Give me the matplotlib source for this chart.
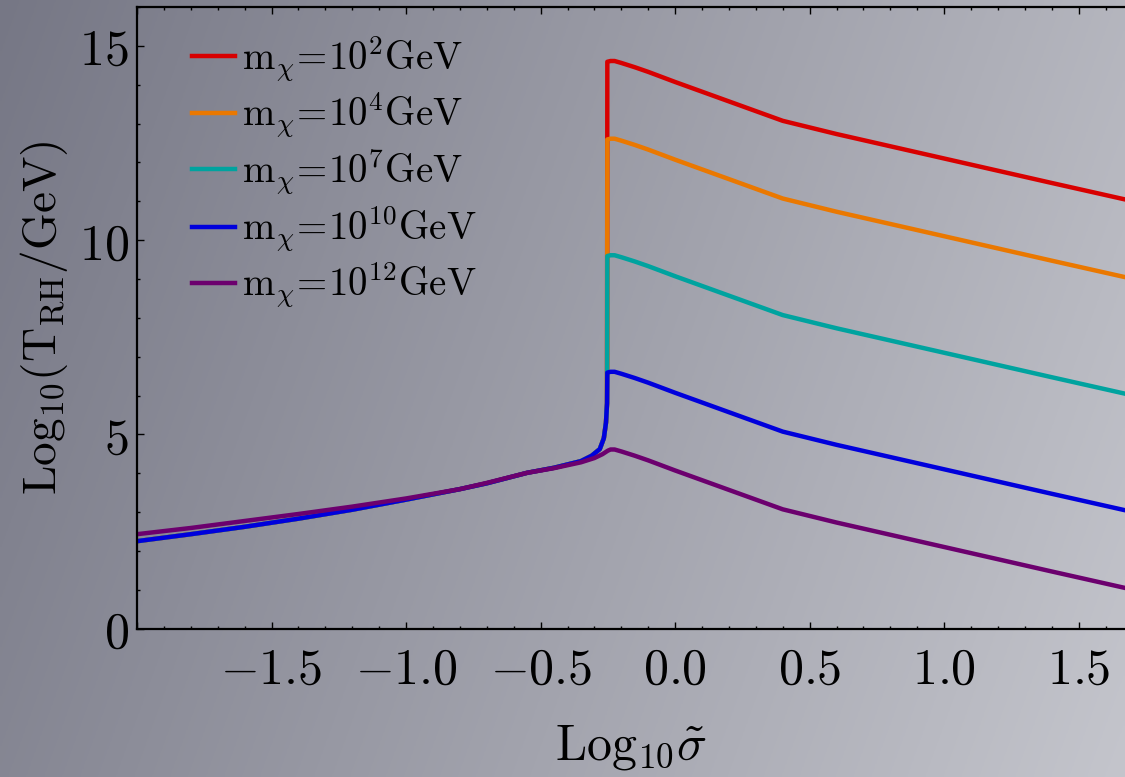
import numpy as np
import matplotlib
matplotlib.use('Agg')
import matplotlib.pyplot as plt
from matplotlib.ticker import MultipleLocator, FuncFormatter

plt.rcParams['mathtext.fontset'] = 'cm'
plt.rcParams['font.family'] = ['DejaVu Serif']

# data
x_low = [-2.0, -1.8, -1.6, -1.4, -1.2, -1.0, -0.8, -0.7, -0.55, -0.45, -0.35, -0.31, -0.28, -0.265, -0.257, -0.253]
y_low = [2.25, 2.43, 2.62, 2.83, 3.06, 3.32, 3.59, 3.74, 4.01, 4.14, 4.31, 4.45, 4.62, 4.90, 5.30, 5.80]

x_low_heavy = [-2.0, -1.8, -1.6, -1.4, -1.2, -1.0, -0.8, -0.7, -0.55, -0.45, -0.35, -0.30, -0.27, -0.25]
y_low_heavy = [2.43, 2.59, 2.77, 2.95, 3.14, 3.35, 3.59, 3.75, 4.01, 4.13, 4.28, 4.39, 4.49, 4.58]

x_high = [-0.252, -0.24, -0.225, -0.2, -0.15, -0.1, 0.0, 0.1, 0.2, 0.3, 0.4, 0.6, 1.0, 1.4, 1.67]
y_red = [14.59, 14.61, 14.61, 14.56, 14.45, 14.33, 14.07, 13.82, 13.57, 13.32, 13.07, 12.73, 12.10, 11.47, 11.05]
y_orange = [12.59, 12.61, 12.61, 12.56, 12.45, 12.33, 12.07, 11.82, 11.57, 11.32, 11.07, 10.73, 10.10, 9.47, 9.05]
y_teal = [9.59, 9.61, 9.61, 9.56, 9.45, 9.33, 9.07, 8.82, 8.57, 8.32, 8.07, 7.73, 7.10, 6.47, 6.05]
y_blue = [6.59, 6.61, 6.61, 6.56, 6.45, 6.33, 6.07, 5.82, 5.57, 5.32, 5.07, 4.73, 4.10, 3.47, 3.05]
y_purple = [4.59, 4.61, 4.61, 4.56, 4.45, 4.33, 4.07, 3.82, 3.57, 3.32, 3.07, 2.73, 2.10, 1.47, 1.05]

labels = [r'$\mathrm{m}_\chi\!=\!10^{2}\mathrm{GeV}$',
          r'$\mathrm{m}_\chi\!=\!10^{4}\mathrm{GeV}$',
          r'$\mathrm{m}_\chi\!=\!10^{7}\mathrm{GeV}$',
          r'$\mathrm{m}_\chi\!=\!10^{10}\mathrm{GeV}$',
          r'$\mathrm{m}_\chi\!=\!10^{12}\mathrm{GeV}$']
colors = ['#d80000', '#ea7800', '#00a39f', '#0000dc', '#6c006e']

fig = plt.figure(figsize=(11.25, 7.77), dpi=100)

# gradient background
bg = fig.add_axes([0, 0, 1, 1], zorder=-1)
gx, gy = np.meshgrid(np.linspace(0, 1, 400), np.linspace(0, 1, 300))
t = np.clip(0.8 * gx + 0.2 * gy, 0, 1)
c0 = np.array([118, 119, 133]) / 255
c1 = np.array([196, 197, 204]) / 255
img = c0[None, None, :] * (1 - t[..., None]) + c1[None, None, :] * t[..., None]
bg.imshow(img, aspect='auto', extent=[0, 1, 0, 1], origin='upper')
bg.axis('off')

ax = fig.add_axes([137 / 1125, 1 - 628.6 / 777, 988 / 1125, 621.6 / 777])
ax.set_facecolor('none')

highs = [y_red, y_orange, y_teal, y_blue]
for yh, col, lab in zip(highs, colors[:4], labels[:4]):
    ax.plot(x_low + x_high, y_low + yh, color=col, lw=3.2, label=lab, solid_joinstyle='round')
ax.plot(x_low_heavy + x_high[1:], y_low_heavy + y_purple[1:], color=colors[4], lw=3.2, label=labels[4])

ax.set_xlim(-2.0, 1.672)
ax.set_ylim(0, 16)
ax.xaxis.set_major_locator(MultipleLocator(0.5))
ax.xaxis.set_minor_locator(MultipleLocator(0.1))
ax.yaxis.set_major_locator(MultipleLocator(5))
ax.yaxis.set_minor_locator(MultipleLocator(1))
ax.xaxis.set_major_formatter(FuncFormatter(lambda v, p: '$%.1f$' % v if v > -1.9 else ''))
ax.yaxis.set_major_formatter(FuncFormatter(lambda v, p: '$%d$' % v))
ax.tick_params(which='both', direction='in', top=True, right=False, width=1.0, labelsize=36)
ax.tick_params(which='major', length=5)
ax.tick_params(which='minor', length=2.5)
ax.tick_params(axis='x', pad=12)
ax.tick_params(axis='y', pad=6)
ax.spines['right'].set_visible(False)
for s in ['left', 'bottom', 'top']:
    ax.spines[s].set_linewidth(1.6)

ax.set_xlabel(r'$\mathrm{Log}_{10}\tilde{\sigma}$', fontsize=36, labelpad=20)
ax.set_ylabel(r'$\mathrm{Log}_{10}(\mathrm{T}_{\mathrm{RH}}/\mathrm{GeV})$', fontsize=34, labelpad=6)

ax.legend(loc='upper left', bbox_to_anchor=(0.028, 1.0), frameon=False, fontsize=28,
          handlelength=1.1, handletextpad=0.2, labelspacing=0.18, borderaxespad=0.3)

fig.savefig('out.png', dpi=100)
